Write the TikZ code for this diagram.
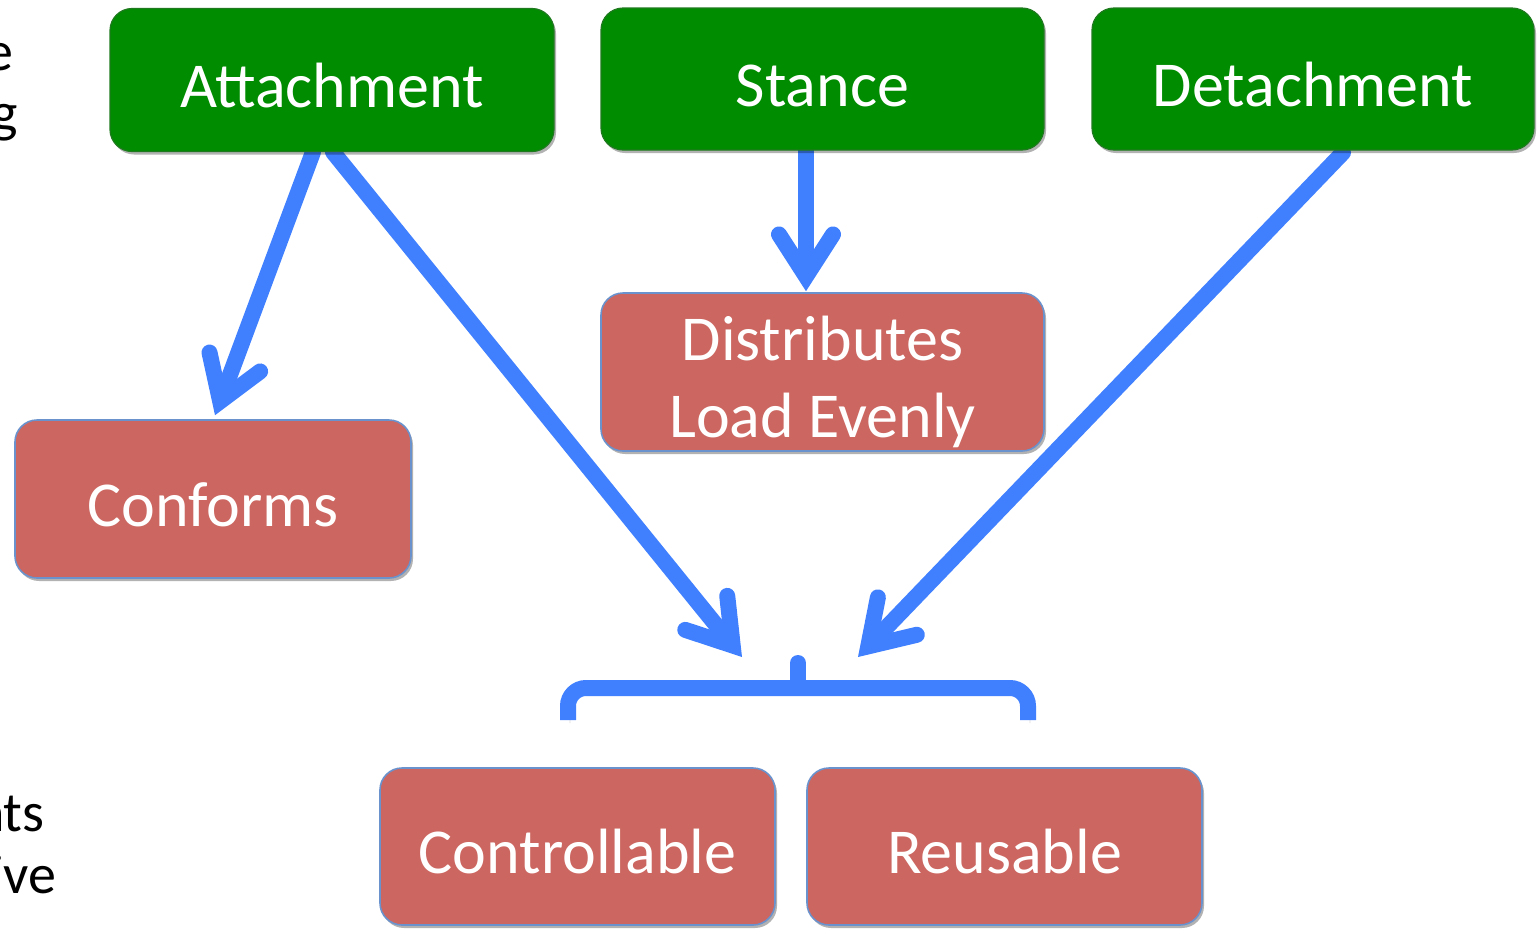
\documentclass[tikz,border=0pt]{standalone}
\usepackage{fontspec}
\setmainfont{Carlito}
\usetikzlibrary{arrows.meta,shadows,calc}
\definecolor{boxgreen}{HTML}{008C00}
\definecolor{boxgreenedge}{HTML}{1F7A1F}
\definecolor{boxred}{HTML}{CC6660}
\definecolor{edgeblue}{HTML}{6A92CC}
\definecolor{arrowblue}{HTML}{4080FF}
\pgfdeclarelayer{bg}
\pgfsetlayers{bg,main}
\begin{document}
\begin{tikzpicture}[x=0.5pt,y=-0.5pt,
  basebox/.style={rounded corners=11pt, align=center, text=white, inner sep=2pt,
    font=\fontsize{32}{38.5}\selectfont, text height=30pt, text depth=3pt,
    drop shadow={opacity=0.3, shadow xshift=1pt, shadow yshift=-1.5pt, fill=black}},
  gbox/.style={basebox, fill=boxgreen, draw=boxgreenedge, line width=0.6pt},
  rbox/.style={basebox, fill=boxred, draw=edgeblue, line width=0.8pt},
  shadowline/.style={preaction={draw=black, opacity=0.15, transform canvas={xshift=1pt, yshift=-1.5pt}}},
  conn/.style={draw=arrowblue, line width=8pt, line cap=round, shadowline,
    -{Straight Barb[length=21pt, width=27pt, line cap=round, line join=miter]}},
  bracestyle/.style={draw=arrowblue, line width=8pt, shadowline},
  lefttext/.style={font=\fontsize{28}{34}\selectfont, text=black, inner sep=0pt}
]
\useasboundingbox (0,0) rectangle (1539,928);

% boxes
\node[gbox, minimum width=222pt, minimum height=71.5pt] (att) at (332,80) {Attachment};
\node[gbox, minimum width=221.5pt, minimum height=71pt] (sta) at (822.5,79) {Stance};
\node[gbox, minimum width=221pt, minimum height=71pt] (det) at (1313,79) {Detachment};
\node[rbox, minimum width=198pt, minimum height=79pt] (conf) at (213,499) {Conforms};
\node[rbox, minimum width=221.5pt, minimum height=79pt, text height=68.5pt, text depth=3pt] (dist) at (822.5,372) {Distributes\\Load Evenly};
\node[rbox, minimum width=197.5pt, minimum height=78.5pt] (ctrl) at (577.5,846.5) {Controllable};
\node[rbox, minimum width=197.5pt, minimum height=78.5pt] (reus) at (1004.5,846.5) {Reusable};

% bracket
\coordinate (brL) at (568,720);
\coordinate (brR) at (1028,720);
\coordinate (brM) at (798,688);
\coordinate (brTip) at (798,663);
\coordinate (tipL) at (742,657);
\coordinate (tipR) at (858,657);

\begin{pgfonlayer}{bg}
\draw[conn] ($(att.south)+(-19,0)$) -- ($(conf.north)+(2,-4)$);
\draw[conn] ($(att.south)+(1,0)$) -- (tipL);
\draw[conn] ($(sta.south)+(-16.5,0)$) -- ($(dist.north)+(-16.5,-1)$);
\draw[conn] ($(det.south)+(30,2)$) -- (tipR);
\end{pgfonlayer}

\draw[bracestyle, rounded corners=9pt] (brL) -- (568,688) -- (1028,688) -- (brR);
\draw[bracestyle, line cap=round] (brM) -- (brTip);

% partially visible text at left edge
\begin{scope}
\clip (0,0) rectangle (1539,928);
\node[lefttext, anchor=base east] (le) at (14,70) {e};
\node[lefttext, anchor=base east] (lg) at (18,131) {g};
\node[lefttext, anchor=base east] (lnts) at (45,831) {nts};
\node[lefttext, anchor=base east] (live) at (57,893) {ive};
\end{scope}
\end{tikzpicture}
\end{document}
